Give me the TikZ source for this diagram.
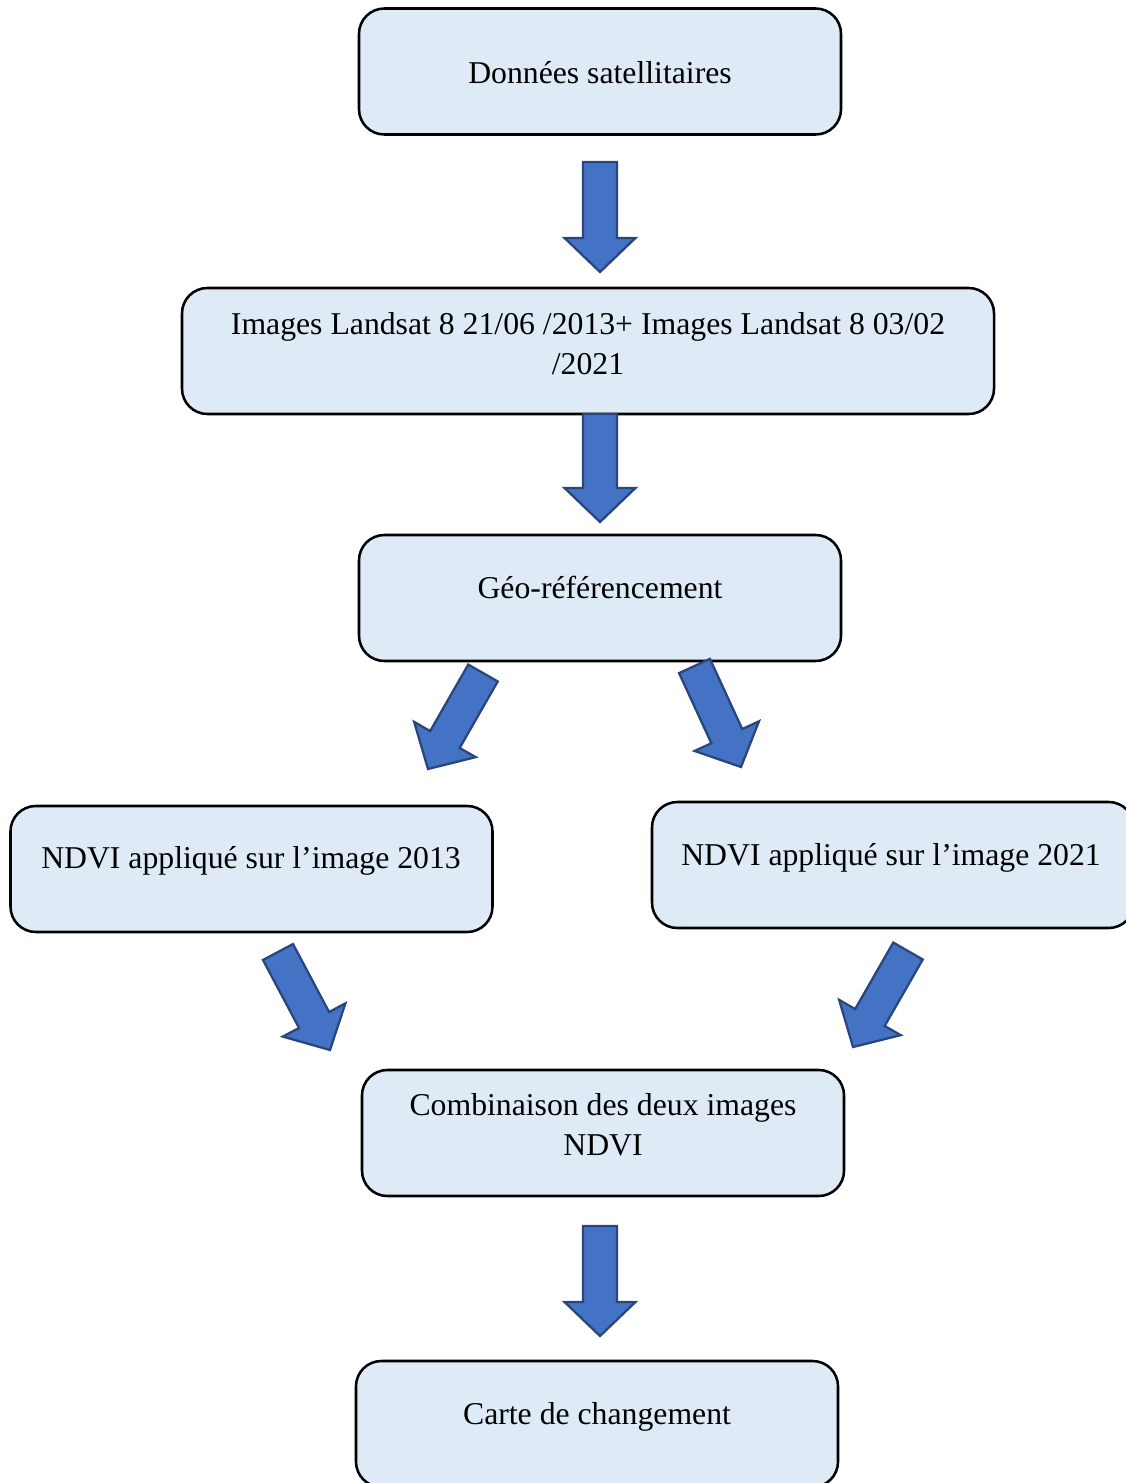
\documentclass[tikz,border=0pt]{standalone}
\usepackage{fontspec}
\setmainfont{Liberation Serif}
\usetikzlibrary{calc}

\definecolor{boxfill}{RGB}{222,235,247}
\definecolor{arrowfill}{RGB}{68,114,196}
\definecolor{arrowline}{RGB}{40,70,125}

\begin{document}
\begin{tikzpicture}[x=0.75pt, y=-0.75pt,
    procbox/.style={draw=black, line width=1.9pt, fill=boxfill, rounded corners=19pt,
        minimum width=361.5pt, minimum height=94.5pt, inner sep=0pt},
    boxtext/.style={font=\fontsize{23.8}{30}\selectfont, align=center, inner sep=0pt},
    bigarrow/.style={draw=arrowline, fill=arrowfill, line width=1.7pt, line join=miter}]
    % 画布大小
    \useasboundingbox (0,0) rectangle (1125,1483);

    % 方框
    \node[procbox] (sat) at (600,71.5) {};
    \node[procbox, minimum width=609pt] (lds) at (588,351) {};
    \node[procbox] (geo) at (600,598) {};
    \node[procbox] (nd13) at (251.5,869) {};
    \node[procbox] (nd21) at (893,865) {};
    \node[procbox] (comb) at (603,1133) {};
    \node[procbox] (carte) at (597,1424) {};

    % 方框里的文字
    \node[boxtext, anchor=base] (sat-t) at (600,84) {Données satellitaires};
    \node[boxtext] (lds-t) at (588,344) {Images Landsat 8 21/06 /2013+ Images Landsat 8 03/02\\/2021};
    \node[boxtext, anchor=base] (geo-t) at (600,598) {Géo-référencement};
    \node[boxtext, anchor=base] (nd13-t) at (251,868) {NDVI appliqué sur l’image 2013};
    \node[boxtext, anchor=base] (nd21-t) at (891,865) {NDVI appliqué sur l’image 2021};
    \node[boxtext] (comb-t) at (603,1125) {Combinaison des deux images\\NDVI};
    \node[boxtext, anchor=base] (carte-t) at (597,1424) {Carte de changement};

    % 箭头起点 / 终点
    \coordinate (a1s) at (600,162);   \coordinate (a1e) at (600,272);
    \coordinate (a2s) at (600,414);   \coordinate (a2e) at (600,522);
    \coordinate (a3s) at (483,673);   \coordinate (a3e) at (428,769);
    \coordinate (a4s) at (694.5,666); \coordinate (a4e) at (741,767);
    \coordinate (a5s) at (278,952);   \coordinate (a5e) at (330,1050);
    \coordinate (a6s) at (908,951);   \coordinate (a6e) at (853,1047);
    \coordinate (a7s) at (600,1226);  \coordinate (a7e) at (600,1336);

    % 块状箭头
    \foreach \s/\e in {a1s/a1e, a2s/a2e, a3s/a3e, a4s/a4e, a5s/a5e, a6s/a6e, a7s/a7e}
    {
        \coordinate (b) at ($(\e)!25.5pt!(\s)$);
        \draw[bigarrow] ($(\s)!12.75pt!90:(\e)$) -- ($(b)!12.75pt!90:(\e)$)
            -- ($(b)!26.6pt!90:(\e)$) -- (\e) -- ($(b)!26.6pt!-90:(\e)$)
            -- ($(b)!12.75pt!-90:(\e)$) -- ($(\s)!12.75pt!-90:(\e)$) -- cycle;
    }
\end{tikzpicture}
\end{document}
